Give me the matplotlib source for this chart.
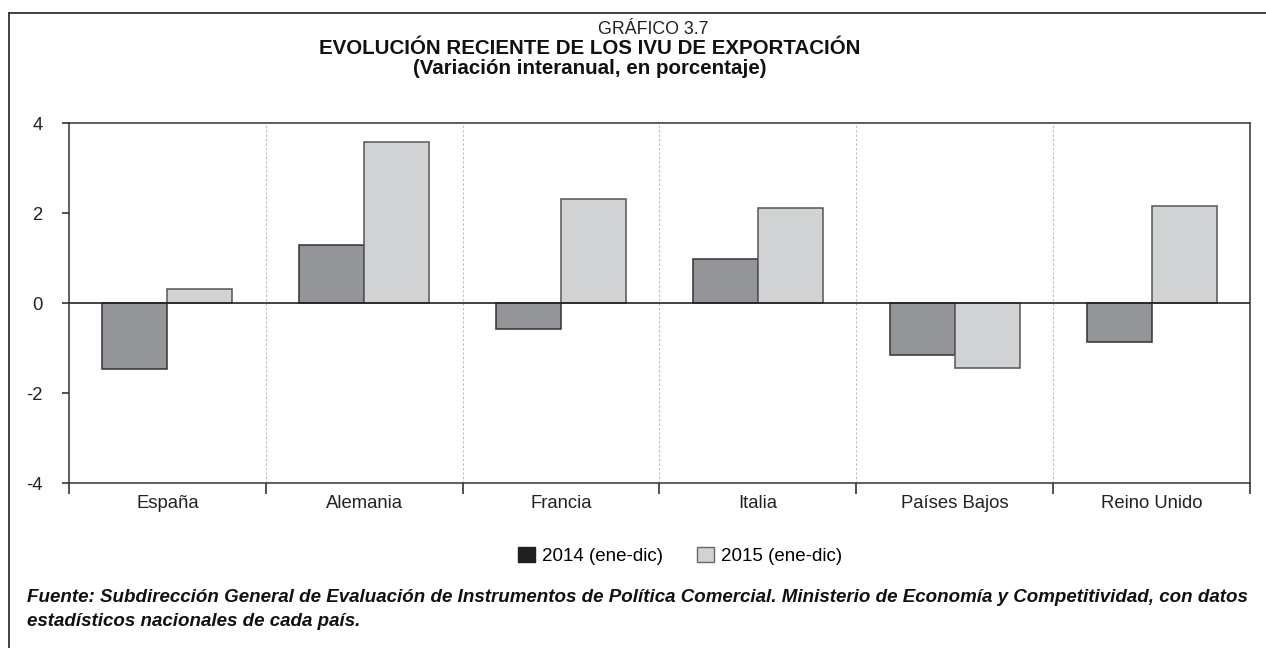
import matplotlib
matplotlib.use("Agg")
import matplotlib.pyplot as plt
import numpy as np
from matplotlib.lines import Line2D
from matplotlib.patches import Patch

plt.rcParams["font.family"] = ["Liberation Sans", "DejaVu Sans"]

countries = ["España", "Alemania", "Francia", "Italia", "Países Bajos", "Reino Unido"]
v2014 = [-1.47, 1.30, -0.58, 0.97, -1.15, -0.86]
v2015 = [0.32, 3.58, 2.32, 2.12, -1.44, 2.16]
labels = ["2014 (ene-dic)", "2015 (ene-dic)"]
yticks = [-4, -2, 0, 2, 4]

DARK = "#949598"
LIGHT = "#d1d2d4"
EDGE = "#333333"

W, H = 1266, 648
fig = plt.figure(figsize=(W / 100, H / 100), dpi=100)
ax = fig.add_axes([69 / W, 1 - 483 / H, (1250 - 69) / W, 360 / H])

x = np.arange(len(countries))
w = 0.33
ax.bar(x - w / 2, v2014, w, color=DARK, edgecolor=EDGE, linewidth=1.1, zorder=3)
ax.bar(x + w / 2, v2015, w, color=LIGHT, edgecolor="#555555", linewidth=1.1, zorder=3)

# dotted separators between countries
for b in np.arange(0.5, len(countries) - 0.5):
    ax.axvline(b, color="#bdbdbd", linestyle=(0, (2, 2)), linewidth=0.8, zorder=1)
ax.axhline(0, color="#222222", linewidth=1.2, zorder=4)

ax.set_xlim(-0.5, len(countries) - 0.5)
ax.set_ylim(-4, 4)
ax.set_yticks(yticks)
ax.set_yticklabels([str(t) for t in yticks])
ax.set_xticks(x)
ax.set_xticklabels(countries)
ax.set_xticks(np.arange(-0.5, len(countries)), minor=True)
ax.tick_params(axis="x", which="major", length=0, pad=9, labelsize=13.3, colors="#222222")
ax.tick_params(axis="x", which="minor", length=8, width=1.1, color="#222222", direction="out")
ax.tick_params(axis="y", length=5, width=1.1, pad=14, labelsize=13.3, colors="#222222")
for s in ax.spines.values():
    s.set_color("#333333")
    s.set_linewidth(1.1)

fig.text(653 / W, 1 - 30 / H, "GRÁFICO 3.7", ha="center", va="center",
         fontsize=12.8, color="#222222")
fig.text(590 / W, 1 - 49 / H, "EVOLUCIÓN RECIENTE DE LOS IVU DE EXPORTACIÓN", ha="center",
         va="center", fontsize=14.8, fontweight="bold", color="#111111")
fig.text(590 / W, 1 - 68 / H, "(Variación interanual, en porcentaje)", ha="center",
         va="center", fontsize=14.8, fontweight="bold", color="#111111")

handles = [Patch(facecolor="#231f20", edgecolor="#231f20"),
           Patch(facecolor=LIGHT, edgecolor="#666666")]
fig.legend(handles, labels, loc="center", bbox_to_anchor=(680 / W, 1 - 556 / H),
           ncol=2, frameon=False, fontsize=13.5, handlelength=0.9, handleheight=0.9,
           handletextpad=0.4, columnspacing=1.8)

foot = dict(ha="left", va="center", fontsize=13.5, fontweight="bold",
            fontstyle="italic", color="#111111")
fig.text(27 / W, 1 - 598 / H,
         "Fuente: Subdirección General de Evaluación de Instrumentos de Política Comercial. "
         "Ministerio de Economía y Competitividad, con datos", **foot)
fig.text(27 / W, 1 - 622 / H, "estadísticos nacionales de cada país.", **foot)

# frame: top and left rules only
fig.add_artist(Line2D([9 / W, 1], [1 - 13 / H] * 2, color="#333333", linewidth=1.3))
fig.add_artist(Line2D([9 / W] * 2, [0, 1 - 13 / H], color="#333333", linewidth=1.3))

fig.savefig("out.png", dpi=100)
